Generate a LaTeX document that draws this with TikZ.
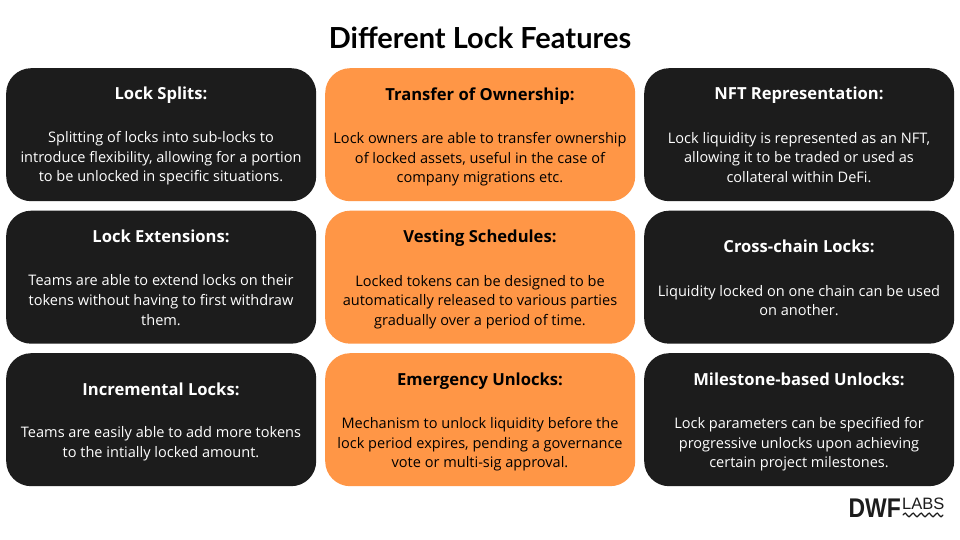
\documentclass[tikz,border=0pt]{standalone}
\usepackage{fontspec}
\setmainfont{Open Sans}
\newfontfamily\headfont{Open Sans}
\newfontfamily\titlefont{Lato}
\newfontfamily\logofont{Liberation Sans}
\definecolor{darkbox}{HTML}{1C1C1C}
\definecolor{orangebox}{HTML}{FF9646}
\tikzset{x=1pt,y=-1pt,
 card/.style={rounded corners=25pt,minimum width=310pt,minimum height=133pt,inner sep=0pt,anchor=north west},
 darkcard/.style={card,fill=darkbox},
 orangecard/.style={card,fill=orangebox},
 head/.style={font=\headfont\bfseries\fontsize{16.6}{20}\selectfont,anchor=center,text height=12pt,text depth=4pt,inner sep=0pt,yshift=-2.5pt},
 body/.style={font=\fontsize{14.55}{19.6}\selectfont,align=center,anchor=center,inner sep=0pt,yshift=-1.5pt},
}
\begin{document}
\begin{tikzpicture}
\useasboundingbox[fill=white] (0,0) rectangle (960,540);
\node[font=\titlefont\bfseries\fontsize{29}{32}\selectfont,text=black] (title) at (480,38) {Different Lock Features};
\node[darkcard] (c1) at (6,68) {};
\node[orangecard] (c2) at (325,68) {};
\node[darkcard] (c3) at (644,68) {};
\node[darkcard] (c4) at (6,210.5) {};
\node[orangecard] (c5) at (325,210.5) {};
\node[darkcard] (c6) at (644,210.5) {};
\node[darkcard] (c7) at (6,353) {};
\node[orangecard] (c8) at (325,353) {};
\node[darkcard] (c9) at (644,353) {};
\node[head,text=white] (h1) at (161,93) {Lock Splits:};
\node[body,text=white] (b1) at (161,157) {Splitting of locks into sub-locks to\\introduce flexibility, allowing for a portion\\to be unlocked in specific situations.};
\node[head,text=black] (h2) at (480,94) {Transfer of Ownership:};
\node[body,text=black] (b2) at (480,158) {Lock owners are able to transfer ownership\\of locked assets, useful in the case of\\company migrations etc.};
\node[head,text=white] (h3) at (799,93) {NFT Representation:};
\node[body,text=white] (b3) at (799,156) {Lock liquidity is represented as an NFT,\\allowing it to be traded or used as\\collateral within DeFi.};
\node[head,text=white] (h4) at (161,236) {Lock Extensions:};
\node[body,text=white] (b4) at (161,298.5) {Teams are able to extend locks on their\\tokens without having to first withdraw\\them.};
\node[head,text=black] (h5) at (480,236) {Vesting Schedules:};
\node[body,text=black] (b5) at (480,300.5) {Locked tokens can be designed to be\\automatically released to various parties\\gradually over a period of time.};
\node[head,text=white] (h6) at (799,246) {Cross-chain Locks:};
\node[body,text=white] (b6) at (799,299) {Liquidity locked on one chain can be used\\on another.};
\node[head,text=white] (h7) at (161,389) {Incremental Locks:};
\node[body,text=white] (b7) at (161,442) {Teams are easily able to add more tokens\\to the intially locked amount.};
\node[head,text=black] (h8) at (480,379) {Emergency Unlocks:};
\node[body,text=black] (b8) at (480,443) {Mechanism to unlock liquidity before the\\lock period expires, pending a governance\\vote or multi-sig approval.};
\node[head,text=white] (h9) at (799,379) {Milestone-based Unlocks:};
\node[body,text=white] (b9) at (799,443) {Lock parameters can be specified for\\progressive unlocks upon achieving\\certain project milestones.};
\node[font=\logofont\bfseries\fontsize{27}{27}\selectfont,anchor=base east,inner sep=0pt,text=darkbox,xscale=.85,transform shape] (l1) at (901,517) {DWF};
\node[font=\logofont\fontsize{16.5}{16.5}\selectfont,anchor=base west,inner sep=0pt,text=darkbox] (l2) at (902,509.5) {LABS};
\draw[darkbox,line width=1.2pt,line cap=round] (903,515) \foreach \k in {0,1,2,3,4} {.. controls (905+\k*8,512.5) and (906+\k*8,512.5) .. (907+\k*8,515) .. controls (908+\k*8,517.5) and (910+\k*8,517.5) .. (911+\k*8,515)};
\end{tikzpicture}
\end{document}
